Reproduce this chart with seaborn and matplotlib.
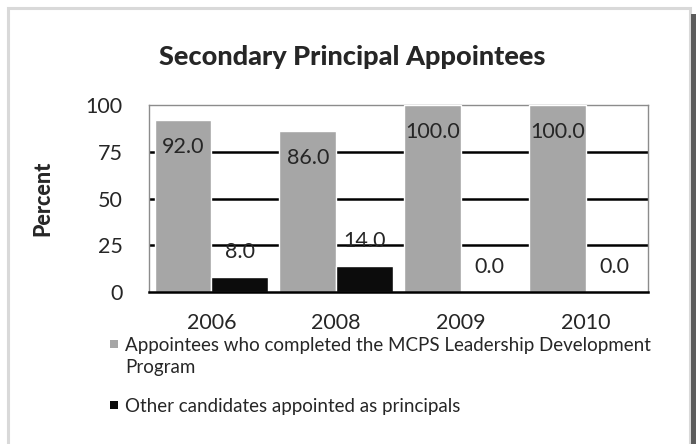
import matplotlib
matplotlib.use("Agg")
import matplotlib.pyplot as plt
import matplotlib.patches as mpatches
import seaborn as sns
import pandas as pd
import numpy as np

# ---- data ----
years = ["2006", "2008", "2009", "2010"]
series_names = [
    "Appointees who completed the MCPS Leadership Development\nProgram",
    "Other candidates appointed as principals",
]
ldp_values = [92.0, 86.0, 100.0, 100.0]
other_values = [8.0, 14.0, 0.0, 0.0]
y_ticks = [0, 25, 50, 75, 100]
title_text = "Secondary Principal Appointees"
ylabel_text = "Percent"

colors = ["#a6a6a6", "#0c0c0c"]

df = pd.DataFrame({
    "Year": years * 2,
    "Series": [series_names[0]] * len(years) + [series_names[1]] * len(years),
    "Percent": ldp_values + other_values,
})

sns.set_theme(style="white")
plt.rcParams["font.family"] = ["Lato", "DejaVu Sans"]

W, H = 696, 444
fig = plt.figure(figsize=(W / 100, H / 100), dpi=100)
fig.patch.set_facecolor("white")

# outer frame and shadow
fig.patches.append(mpatches.Rectangle((8 / W, -0.05), (690 - 8) / W, (H - 8) / H + 0.05,
                                      transform=fig.transFigure, fill=False,
                                      edgecolor="#d9d9d9", linewidth=2.2, zorder=0))
fig.patches.append(mpatches.Rectangle((691 / W, 0), 5 / W, (H - 14) / H,
                                      transform=fig.transFigure, facecolor="#5c5c5c",
                                      edgecolor="none", zorder=0))

left, right, top, bottom = 149, 648, 105, 292
ax = fig.add_axes([left / W, 1 - bottom / H, (right - left) / W, (bottom - top) / H])

sns.barplot(data=df, x="Year", y="Percent", hue="Series", palette=colors,
            width=0.91, gap=0, dodge=True, ax=ax, legend=False, zorder=3,
            saturation=1, errorbar=None)

ax.set_ylim(0, 100)
ax.set_xlim(-0.5, len(years) - 0.5)
ax.set_yticks(y_ticks)
ax.set_yticklabels([str(v) for v in y_ticks], fontsize=15.5)
ax.tick_params(axis="y", length=0, pad=19)
ax.tick_params(axis="x", which="major", length=0, pad=15, labelsize=15.5)
ax.set_xticks(np.arange(-0.5, len(years)), minor=True)
ax.tick_params(axis="x", which="minor", length=6, width=1.5, color="black", direction="out")
ax.set_xlabel("")

for y in y_ticks[1:-1]:
    ax.axhline(y, color="black", linewidth=1.8, zorder=1)

for s in ["left", "right", "top"]:
    ax.spines[s].set_color("#8c8c8c")
    ax.spines[s].set_linewidth(1.0)
    ax.spines[s].set_visible(True)
ax.spines["bottom"].set_color("black")
ax.spines["bottom"].set_linewidth(1.8)
ax.spines["bottom"].set_zorder(5)

# value labels
gray_bars = ax.containers[0]
black_bars = ax.containers[1]
for bar, v in zip(gray_bars, ldp_values):
    ax.annotate(f"{v:.1f}", (bar.get_x() + bar.get_width() / 2, v),
                xytext=(0, -17), textcoords="offset pixels",
                ha="center", va="top", fontsize=15.5, zorder=6, annotation_clip=False)
for bar, v in zip(black_bars, other_values):
    ax.annotate(f"{v:.1f}", (bar.get_x() + bar.get_width() / 2, v),
                xytext=(0, 15), textcoords="offset pixels",
                ha="center", va="bottom", fontsize=15.5, zorder=6, annotation_clip=False)

fig.text(352 / W, 1 - 57 / H, title_text, ha="center", va="center",
         fontsize=19.5, fontweight="black")

# legend drawn manually (marker aligned with first text line)
legend_baselines = [351, 412]
line_step = 22
for name, c, base in zip(series_names, colors, legend_baselines):
    fig.patches.append(mpatches.Rectangle((110 / W, 1 - (base - 3) / H), 8 / W, 8 / H,
                                          transform=fig.transFigure, facecolor=c,
                                          edgecolor="none"))
    for i, line in enumerate(name.split("\n")):
        fig.text(125 / W, 1 - (base + i * line_step) / H, line, ha="left",
                 va="baseline", fontsize=13.5)

ax.set_ylabel(ylabel_text, fontsize=15.5, fontweight="black")
ax.yaxis.set_label_coords(-(149 - 53) / (right - left), 0.5)

fig.savefig("out.png", dpi=100)
